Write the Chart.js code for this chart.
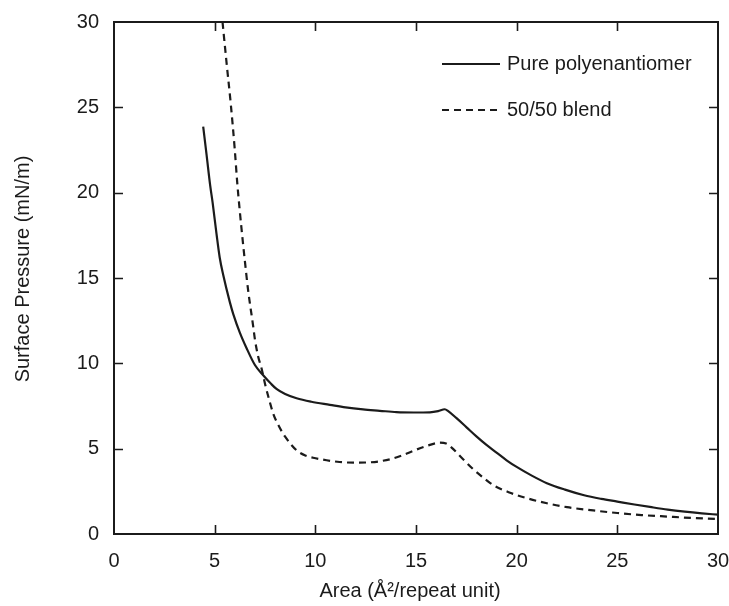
<!DOCTYPE html>
<html>
<head>
<meta charset="utf-8">
<script src="https://cdn.jsdelivr.net/npm/chart.js@4.4.1/dist/chart.umd.min.js"></script>
<style>
  html, body { margin: 0; padding: 0; background: #ffffff; }
  #wrap { width: 729px; height: 606px; }
</style>
</head>
<body>
<div id="wrap"><canvas id="c" width="729" height="606"></canvas></div>
<script>
// ---- Data ----
const seriesNames = ["Pure polyenantiomer", "50/50 blend"];

const pureArea = [4.43, 4.6, 4.78, 4.9, 5.09, 5.25, 5.42, 5.75, 5.92, 6.25, 6.58, 7.0, 7.41, 7.8, 8.07, 8.5, 9.07, 9.8, 10.72, 11.5, 12.37, 13.2, 14.03, 14.9, 15.69, 16.1, 16.43, 16.6, 17.0, 17.51, 18.0, 18.5, 19.0, 19.5, 20.0, 20.75, 21.5, 22.4, 23.35, 24.2, 25.0, 25.85, 26.7, 27.5, 28.35, 29.2, 30.0];
const purePressure = [23.87, 22.2, 20.4, 19.4, 17.6, 16.2, 15.2, 13.6, 12.9, 11.8, 10.9, 9.9, 9.3, 8.8, 8.5, 8.2, 7.95, 7.75, 7.57, 7.42, 7.3, 7.22, 7.14, 7.12, 7.13, 7.2, 7.31, 7.2, 6.8, 6.25, 5.72, 5.22, 4.77, 4.32, 3.93, 3.42, 2.98, 2.6, 2.27, 2.06, 1.9, 1.73, 1.57, 1.43, 1.31, 1.21, 1.13];

const blendArea = [5.39, 5.6, 5.8, 6.0, 6.12, 6.25, 6.41, 6.5, 6.66, 6.91, 7.0, 7.16, 7.33, 7.5, 7.7, 7.91, 8.2, 8.5, 9.07, 9.5, 9.89, 10.56, 11.2, 11.93, 12.7, 13.2, 13.78, 14.3, 14.86, 15.5, 16.19, 16.5, 16.77, 17.34, 17.84, 18.4, 18.85, 19.6, 20.5, 21.5, 22.5, 23.8, 25.0, 26.2, 27.5, 28.7, 30.0];
const blendPressure = [30.0, 27.5, 25.2, 22.5, 20.6, 18.9, 17.0, 16.0, 14.3, 12.2, 11.4, 10.4, 9.7, 8.8, 7.9, 7.05, 6.3, 5.7, 4.9, 4.6, 4.47, 4.32, 4.22, 4.18, 4.2, 4.26, 4.4, 4.6, 4.87, 5.15, 5.35, 5.3, 5.06, 4.38, 3.8, 3.25, 2.85, 2.45, 2.1, 1.8, 1.57, 1.38, 1.23, 1.11, 1.02, 0.94, 0.88];

const xTickValues = [0, 5, 10, 15, 20, 25, 30];
const yTickValues = [0, 5, 10, 15, 20, 25, 30];
const xTitle = "Area (Å²/repeat unit)";
const yTitle = "Surface Pressure (mN/m)";

// ---- Styles ----
const FONT = '"Liberation Sans", Arial, Helvetica, sans-serif';
const INK = '#1b1b1b';
const SOLID = [];
const DASH = [7, 5];

function toPoints(xs, ys) { return xs.map((x, i) => ({ x: x, y: ys[i] })); }

const framePlugin = {
  id: 'frameTicksLegend',
  afterDraw(chart) {
    const { ctx, chartArea: a, scales } = chart;
    const xs = scales.x, ys = scales.y;
    ctx.save();
    // frame
    ctx.strokeStyle = INK;
    ctx.lineWidth = 2;
    ctx.setLineDash([]);
    ctx.strokeRect(a.left, a.top, a.right - a.left, a.bottom - a.top);
    // inward ticks on all four sides
    const TL = 9;
    ctx.beginPath();
    xTickValues.slice(1, -1).forEach(v => {
      const px = Math.round(xs.getPixelForValue(v)) + 0.5;
      ctx.moveTo(px, a.bottom); ctx.lineTo(px, a.bottom - TL);
      ctx.moveTo(px, a.top); ctx.lineTo(px, a.top + TL);
    });
    yTickValues.slice(1, -1).forEach(v => {
      const py = Math.round(ys.getPixelForValue(v)) + 0.5;
      ctx.moveTo(a.left, py); ctx.lineTo(a.left + TL, py);
      ctx.moveTo(a.right, py); ctx.lineTo(a.right - TL, py);
    });
    ctx.lineWidth = 1.6;
    ctx.stroke();

    // axis titles
    ctx.fillStyle = INK;
    ctx.font = '20px ' + FONT;
    ctx.textAlign = 'center';
    ctx.textBaseline = 'middle';
    ctx.fillText(xTitle, (a.left + a.right) / 2 - 6, 591);
    ctx.save();
    ctx.translate(23, (a.top + a.bottom) / 2 - 9);
    ctx.rotate(-Math.PI / 2);
    ctx.fillText(yTitle, 0, 0);
    ctx.restore();

    // legend (inside plot, top right)
    const lx0 = a.right - 276, lx1 = a.right - 218, tx = a.right - 211;
    const rows = [a.top + 42, a.top + 88];
    chart.data.datasets.forEach((ds, i) => {
      ctx.beginPath();
      ctx.setLineDash(ds.borderDash || []);
      ctx.lineWidth = ds.borderWidth;
      ctx.strokeStyle = ds.borderColor;
      ctx.moveTo(lx0, rows[i]); ctx.lineTo(lx1, rows[i]);
      ctx.stroke();
      ctx.setLineDash([]);
      ctx.textAlign = 'left';
      ctx.fillText(ds.label, tx, rows[i]);
    });
    ctx.restore();
  }
};

new Chart(document.getElementById('c'), {
  type: 'line',
  data: {
    datasets: [
      {
        label: seriesNames[0],
        data: toPoints(pureArea, purePressure),
        borderColor: INK, borderWidth: 2.2, borderDash: SOLID,
        pointRadius: 0, fill: false, cubicInterpolationMode: 'monotone'
      },
      {
        label: seriesNames[1],
        data: toPoints(blendArea, blendPressure),
        borderColor: INK, borderWidth: 2.2, borderDash: DASH,
        pointRadius: 0, fill: false, cubicInterpolationMode: 'monotone'
      }
    ]
  },
  options: {
    responsive: false,
    animation: false,
    layout: { padding: { top: 22, right: 11, left: 0, bottom: 0 } },
    plugins: { legend: { display: false }, tooltip: { enabled: false } },
    scales: {
      x: {
        type: 'linear', min: 0, max: 30,
        afterBuildTicks: s => { s.ticks = xTickValues.map(v => ({ value: v })); },
        ticks: { color: INK, font: { family: FONT, size: 20 }, padding: 15, maxRotation: 0 },
        grid: { display: false, drawTicks: false },
        border: { display: false },
        afterFit: s => { s.height = 72; s.paddingLeft = 0; s.paddingRight = 0; }
      },
      y: {
        type: 'linear', min: 0, max: 30,
        afterBuildTicks: s => { s.ticks = yTickValues.map(v => ({ value: v })); },
        ticks: { color: INK, font: { family: FONT, size: 20 }, padding: 15 },
        grid: { display: false, drawTicks: false },
        border: { display: false },
        afterFit: s => { s.width = 114; s.paddingTop = 0; s.paddingBottom = 0; }
      }
    }
  },
  plugins: [framePlugin]
});
</script>
</body>
</html>
